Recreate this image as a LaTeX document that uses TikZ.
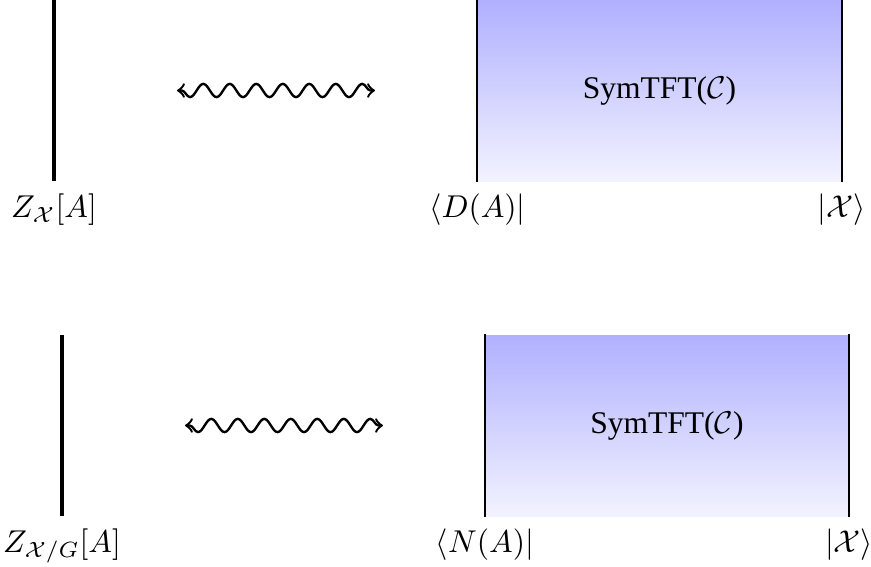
\documentclass[tikz,border=0pt]{standalone}
\usepackage{fontspec}
\setmainfont{Liberation Serif}
\usetikzlibrary{decorations.pathmorphing}
\begin{document}
\begin{tikzpicture}[x=0.3170pt,y=-0.3170pt,
  wall/.style={line width=1pt},
  edge/.style={line width=0.6pt},
  bulk/.style={top color=blue!31,bottom color=blue!5,draw=none,inner sep=0pt,
    minimum width=115.07pt,minimum height=57.38pt},
  lab/.style={below,inner sep=3.8pt},
  wave/.style={<->,line width=0.75pt,decorate,
    decoration={snake,amplitude=-2.1pt,segment length=8.4pt,pre length=1.5pt,post length=1pt}}]
\useasboundingbox (0,0) rectangle (871,567);
% ---- top panel
\coordinate (tLa) at (54,0);
\coordinate (tLb) at (54,181);
\draw[wall] (tLa) -- (tLb);
\node[lab] (tZ) at (tLb) {$Z_{\mathcal{X}}[A]$};
\coordinate (tWl) at (177,90.5);
\coordinate (tWr) at (375,90.5);
\draw[wave] (tWl) -- (tWr);
\node[bulk] (tB) at (659.5,90.5) {SymTFT($\mathcal{C}$)};
\draw[edge] (tB.north west) -- (tB.south west);
\draw[edge] (tB.north east) -- (tB.south east);
\node[lab] (tD) at (tB.south west) {$\langle D(A)|$};
\node[lab] (tX) at (tB.south east) {$|\mathcal{X}\rangle$};
% ---- bottom panel
\coordinate (bLa) at (62,335);
\coordinate (bLb) at (62,516);
\draw[wall] (bLa) -- (bLb);
\node[lab] (bZ) at (bLb) {$Z_{\mathcal{X}/G}[A]$};
\coordinate (bWl) at (185,425.5);
\coordinate (bWr) at (383,425.5);
\draw[wave] (bWl) -- (bWr);
\node[bulk] (bB) at (667,425.5) {SymTFT($\mathcal{C}$)};
\draw[edge] (bB.north west) -- (bB.south west);
\draw[edge] (bB.north east) -- (bB.south east);
\node[lab] (bN) at (bB.south west) {$\langle N(A)|$};
\node[lab] (bX) at (bB.south east) {$|\mathcal{X}\rangle$};
\end{tikzpicture}
\end{document}
